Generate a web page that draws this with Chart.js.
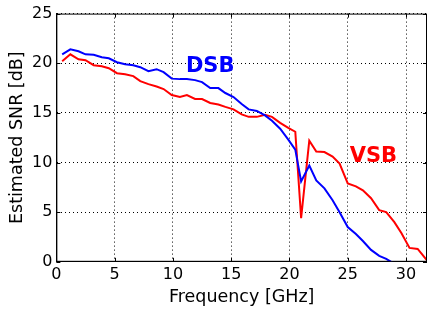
<!DOCTYPE html>
<html>
<head>
<meta charset="utf-8">
<script src="https://cdn.jsdelivr.net/npm/chart.js@4/dist/chart.umd.min.js"></script>
<style>
  html, body { margin: 0; padding: 0; background: #fff; }
  #wrap { width: 427px; height: 310px; }
</style>
</head>
<body>
<div id="wrap"><canvas id="snr" width="427" height="310"></canvas></div>
<script>
// Frequency points [GHz]
const freqs = [0.5, 1.2, 1.9, 2.5, 3.2, 3.9, 4.5, 5.2, 5.9, 6.6, 7.2, 7.9, 8.6, 9.2, 9.9,
  10.6, 11.2, 11.9, 12.5, 13.2, 13.9, 14.5, 15.2, 15.9, 16.5, 17.2, 17.9, 18.5, 19.2, 19.9,
  20.5, 21.0, 21.7, 22.3, 23.0, 23.7, 24.3, 25.0, 25.7, 26.3, 27.0, 27.7, 28.3, 29.0,
  29.6, 30.3, 31.0, 31.8];

// Estimated SNR [dB]
const dsb = [20.9, 21.4, 21.2, 20.9, 20.85, 20.6, 20.5, 20.1, 19.9, 19.8, 19.6, 19.2, 19.4, 19.1, 18.45,
  18.4, 18.4, 18.3, 18.1, 17.5, 17.5, 17.0, 16.6, 15.9, 15.35, 15.2, 14.75, 14.2, 13.4, 12.3,
  11.3, 8.1, 9.7, 8.2, 7.4, 6.2, 5.0, 3.5, 2.8, 2.1, 1.2, 0.6, 0.3, -0.2,
  null, null, null, null];

const vsb = [20.2, 20.9, 20.4, 20.3, 19.8, 19.7, 19.5, 19.0, 18.9, 18.7, 18.2, 17.9, 17.65, 17.4, 16.8,
  16.6, 16.8, 16.4, 16.4, 16.0, 15.85, 15.6, 15.35, 14.85, 14.6, 14.6, 14.8, 14.6, 14.0, 13.5,
  13.1, 4.4, 12.2, 11.1, 11.05, 10.6, 9.9, 7.9, 7.6, 7.2, 6.4, 5.2, 5.0, 4.0,
  2.9, 1.4, 1.3, 0.15];

const xTicks = [0, 5, 10, 15, 20, 25, 30];

const labels = [
  { text: 'DSB', x: 13.2, y: 19.7, color: '#0000ff' },
  { text: 'VSB', x: 27.2, y: 10.6, color: '#ff0000' },
];

const FONT = "'DejaVu Sans', sans-serif";

const toPoints = ys => freqs.map((x, i) => ({ x, y: ys[i] }));

// frame, inward ticks and the series labels
const framePlugin = {
  id: 'frame',
  afterDraw(chart) {
    const { ctx, chartArea: a, scales: { x, y } } = chart;
    ctx.save();
    ctx.strokeStyle = '#000';
    ctx.lineWidth = 1;
    ctx.strokeRect(a.left + 0.5, a.top + 0.5, a.right - a.left - 1, a.bottom - a.top - 1);
    ctx.beginPath();
    for (const v of xTicks) {
      const px = Math.round(x.getPixelForValue(v)) + 0.5;
      ctx.moveTo(px, a.bottom); ctx.lineTo(px, a.bottom - 4);
      ctx.moveTo(px, a.top); ctx.lineTo(px, a.top + 4);
    }
    for (let v = 0; v <= 25; v += 5) {
      const py = Math.round(y.getPixelForValue(v)) + 0.5;
      ctx.moveTo(a.left, py); ctx.lineTo(a.left + 4, py);
      ctx.moveTo(a.right, py); ctx.lineTo(a.right - 4, py);
    }
    ctx.stroke();
    ctx.font = 'bold 21px ' + FONT;
    ctx.textAlign = 'center';
    ctx.textBaseline = 'middle';
    for (const l of labels) {
      ctx.fillStyle = l.color;
      ctx.fillText(l.text, x.getPixelForValue(l.x), y.getPixelForValue(l.y));
    }
    ctx.restore();
  }
};

new Chart(document.getElementById('snr'), {
  type: 'scatter',
  data: {
    datasets: [
      { label: 'DSB', data: toPoints(dsb), showLine: true, borderColor: '#0000ff', borderWidth: 2, pointRadius: 0, tension: 0 },
      { label: 'VSB', data: toPoints(vsb), showLine: true, borderColor: '#ff0000', borderWidth: 2, pointRadius: 0, tension: 0 },
    ]
  },
  options: {
    responsive: false,
    animation: false,
    layout: { padding: { left: 7, right: 0, top: 13, bottom: 0 } },
    plugins: { legend: { display: false }, tooltip: { enabled: false } },
    scales: {
      x: {
        type: 'linear', min: 0, max: 31.8,
        ticks: { color: '#000', font: { family: FONT, size: 16 }, padding: 3, maxRotation: 0 },
        grid: { color: '#000', lineWidth: 1, drawTicks: false },
        border: { color: '#000', dash: [1, 3] },
        title: { display: true, text: 'Frequency [GHz]', color: '#000', font: { family: FONT, size: 17.5 }, padding: { top: 0, bottom: 2 } },
        afterBuildTicks: s => { s.ticks = xTicks.map(v => ({ value: v })); }
      },
      y: {
        min: 0, max: 25,
        ticks: { stepSize: 5, color: '#000', font: { family: FONT, size: 16 }, padding: 4 },
        grid: { color: '#000', lineWidth: 1, drawTicks: false },
        border: { color: '#000', dash: [1, 3] },
        title: { display: true, text: 'Estimated SNR [dB]', color: '#000', font: { family: FONT, size: 17.5 }, padding: { top: 0, bottom: 0 } }
      }
    }
  },
  plugins: [framePlugin]
});
</script>
</body>
</html>
